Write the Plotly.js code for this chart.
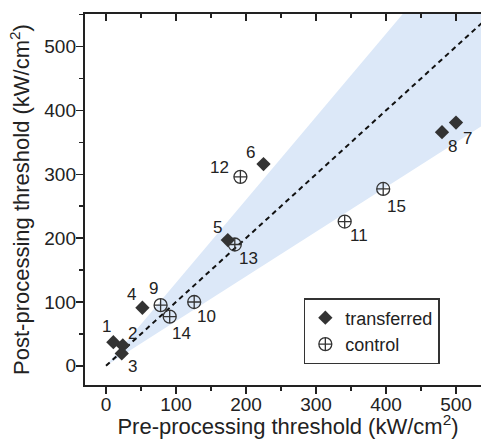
<!DOCTYPE html>
<html>
<head>
<meta charset="utf-8">
<script src="https://cdn.plot.ly/plotly-3.0.1.min.js"></script>
<style>html,body{margin:0;padding:0;overflow:hidden;background:#fff;}</style>
</head>
<body>
<div id="chart"></div>
<script>
// Transferred samples (1-8)
const transferredIds = ["1","2","3","4","5","6","7","8"];
const transferredPre = [10.5, 24, 22.5, 52, 174, 225, 500, 480];
const transferredPost = [37, 32, 19.5, 91, 197, 316, 381, 366];
// Control samples (9-15)
const controlIds = ["9","10","11","12","13","14","15"];
const controlPre = [78, 126, 341, 192, 184, 91, 396];
const controlPost = [95, 100, 226, 296, 190, 77, 277];
// Guide line y = x and ±30 % band
const guideX = [0, 550];
const bandLowFactor = 0.7;
const bandHighFactor = 1.3;
const tickValues = [0, 100, 200, 300, 400, 500];

// label offsets (pixels) – styling only
const transferredOffsets = [[-7,-16],[10,-12],[11,13],[-11,-13],[-10,-13],[-13,-12],[11,16],[10,14]];
const controlOffsets = [[-7,-17],[12,15],[14,14],[-21,-9],[14,14],[12,17],[13,18]];

const bandX = guideX.concat(guideX.slice().reverse());
const bandY = guideX.map(v => v * bandHighFactor).concat(guideX.slice().reverse().map(v => v * bandLowFactor));

const markColor = '#333333';
const fam = 'Liberation Sans, Arial, sans-serif';
const xRange = [-30, 550];
const yRange = [-30, 551];

const traces = [
  {x: bandX, y: bandY, type: 'scatter', mode: 'lines', fill: 'toself',
   fillcolor: '#dce8f8', line: {width: 0}, showlegend: false, hoverinfo: 'skip'},
  {x: guideX, y: guideX, type: 'scatter', mode: 'lines',
   line: {color: '#111', width: 2, dash: '5px,4px'}, showlegend: false, hoverinfo: 'skip'},
  {x: transferredPre, y: transferredPost, type: 'scatter', mode: 'markers', name: 'transferred',
   marker: {symbol: 'diamond', size: 11, color: markColor, line: {width: 0}}},
  {x: controlPre, y: controlPost, type: 'scatter', mode: 'markers', name: 'control',
   marker: {symbol: 'circle-cross-open', size: 13, color: markColor, line: {width: 1.3, color: markColor}}},
  // invisible helpers so the extra axes get drawn
  {x: [null], y: [null], xaxis: 'x2', yaxis: 'y2', type: 'scatter', mode: 'markers', showlegend: false, hoverinfo: 'skip'},
  {x: [null], y: [null], xaxis: 'x3', yaxis: 'y2', type: 'scatter', mode: 'markers', showlegend: false, hoverinfo: 'skip'}
];

const annotations = [];
function addLabels(ids, xs, ys, offs) {
  ids.forEach((t, i) => {
    annotations.push({x: xs[i], y: ys[i], text: t, showarrow: false,
      xshift: offs[i][0], yshift: -offs[i][1],
      font: {family: fam, size: 17, color: '#222'}});
  });
}
addLabels(transferredIds, transferredPre, transferredPost, transferredOffsets);
addLabels(controlIds, controlPre, controlPost, controlOffsets);

const tickFont = {family: fam, size: 19, color: '#222'};
const titleFont = {family: fam, size: 22, color: '#222'};
const minorOut = {dtick: 50, tick0: 0, ticks: 'outside', ticklen: 4, tickwidth: 1.5, tickcolor: '#222', showgrid: false};
const minorIn = {dtick: 50, tick0: 0, ticks: 'inside', ticklen: 4, tickwidth: 1.5, tickcolor: '#222', showgrid: false};

const layout = {
  width: 492, height: 439,
  margin: {l: 85, r: 1, t: 14, b: 54},
  paper_bgcolor: '#fff', plot_bgcolor: '#fff',
  showlegend: true,
  legend: {x: 0.539, y: 0.2345, xanchor: 'left', yanchor: 'top',
    bordercolor: '#333', borderwidth: 1.5, bgcolor: '#fff',
    font: {family: fam, size: 18, color: '#222'},
    itemwidth: 30, tracegroupgap: 0},
  // main bottom axis: line + outward ticks
  xaxis: {range: xRange, tickvals: tickValues, ticks: 'outside', ticklen: 7, tickwidth: 1.5,
    tickcolor: '#222', showline: true, linecolor: '#222', linewidth: 1.8, showgrid: false, zeroline: false,
    showticklabels: false, minor: minorOut},
  // top axis: line + inward ticks
  xaxis2: {range: xRange, overlaying: 'x', side: 'top', anchor: 'y', tickvals: tickValues, ticks: 'inside',
    ticklen: 7, tickwidth: 1.5, tickcolor: '#222', showline: true, linecolor: '#222', linewidth: 1.8,
    showticklabels: false, showgrid: false, zeroline: false, minor: minorIn},
  // bottom labels + title
  xaxis3: {range: xRange, overlaying: 'x', side: 'bottom', anchor: 'y', tickvals: tickValues, ticks: '',
    showline: false, showgrid: false, zeroline: false, tickfont: tickFont, ticklabelstandoff: 6,
    title: {text: 'Pre-processing threshold (kW/cm<sup>2</sup>)', font: titleFont, standoff: 9}},
  yaxis: {range: yRange, tickvals: tickValues, ticks: 'outside', ticklen: 7, tickwidth: 1.5,
    tickcolor: '#222', showline: true, linecolor: '#222', linewidth: 1.8, showgrid: false, zeroline: false,
    showticklabels: false, minor: minorOut},
  yaxis2: {range: yRange, overlaying: 'y', side: 'left', anchor: 'x', tickvals: tickValues, ticks: '',
    showline: false, showgrid: false, zeroline: false, tickfont: tickFont, ticklabelstandoff: 8,
    title: {text: 'Post-processing threshold (kW/cm<sup>2</sup>)', font: titleFont, standoff: 8}},
  annotations: annotations
};

Plotly.newPlot('chart', traces, layout, {displayModeBar: false, staticPlot: true});
</script>
</body>
</html>
